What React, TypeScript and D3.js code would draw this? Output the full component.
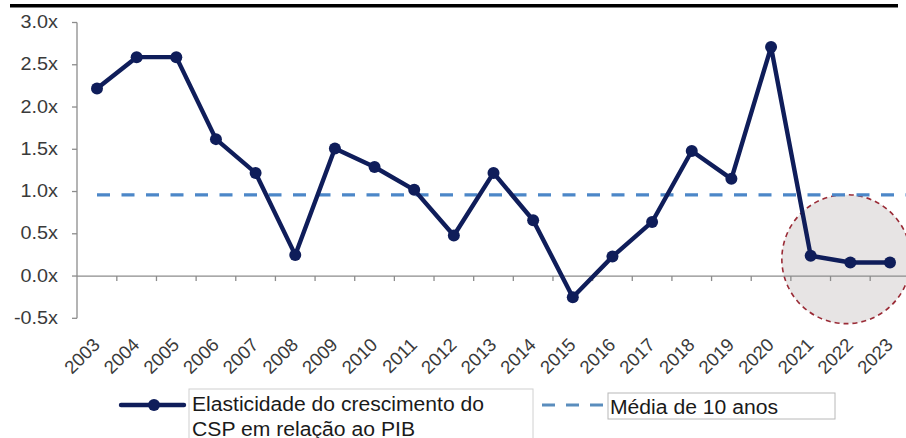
import React from "react";
import * as d3 from "d3";

const years = ["2003","2004","2005","2006","2007","2008","2009","2010","2011","2012","2013","2014","2015","2016","2017","2018","2019","2020","2021","2022","2023"];
const elasticity = [2.22,2.59,2.59,1.62,1.22,0.25,1.51,1.29,1.02,0.48,1.22,0.66,-0.25,0.23,0.64,1.48,1.15,2.71,0.24,0.16,0.16];
const mean10 = 0.96;
const yTicks = [-0.5,0,0.5,1,1.5,2,2.5,3];
const legendSeries = ["Elasticidade do crescimento do", "CSP em relação ao PIB"];
const legendMean = "Média de 10 anos";

const W = 906, H = 438;
const FONT = "'Liberation Sans', Arial, sans-serif";
const NAVY = "#0f1d5a";
const BLUE = "#4c87c8";

export default function App() {
  const x = d3.scalePoint<string>().domain(years).range([97, 890]);
  const step = x.step();
  const y = d3.scaleLinear().domain([-0.5, 3]).range([318.3, 22.5]);
  const line = d3.line<number>().x((_, i) => x(years[i])!).y(d => y(d));
  const axisX = 77;
  const y0 = y(0);

  return (
    <svg width={W} height={H} style={{ position: "absolute", left: 0, top: 0, background: "#fff" }} fontFamily={FONT}>
      <rect x={10} y={4} width={888} height={3.5} fill="#000" />
      {/* highlight circle */}
      <circle cx={x("2022")! - 4} cy={y(0.2)} r={64.5} fill="#e7e4e4" stroke="#9a2b36" strokeWidth={1.6} strokeDasharray="5 4" />
      {/* y axis */}
      <line x1={axisX} x2={axisX} y1={y(3)} y2={y(-0.5)} stroke="#8c8c8c" strokeWidth={1.3} />
      {yTicks.map(t => (
        <g key={t}>
          <line x1={axisX - 5} x2={axisX} y1={y(t)} y2={y(t)} stroke="#8c8c8c" strokeWidth={1.3} />
          <text transform={`translate(58,${y(t) + 5.5}) scale(1.1,1)`} textAnchor="end" fontSize={18} fill="#3a3a3a">{t.toFixed(1) + "x"}</text>
        </g>
      ))}
      {/* x axis */}
      <line x1={axisX} x2={W} y1={y0} y2={y0} stroke="#8c8c8c" strokeWidth={1.3} />
      {years.slice(0, -1).map(yr => (
        <line key={yr} x1={x(yr)! + step / 2} x2={x(yr)! + step / 2} y1={y0} y2={y0 + 5} stroke="#8c8c8c" strokeWidth={1.3} />
      ))}
      {years.map(yr => (
        <text key={yr} transform={`translate(${x(yr)! + 4},${346}) rotate(-45)`} textAnchor="end" fontSize={18.5} fill="#3a3a3a">{yr}</text>
      ))}
      {/* mean line */}
      <line x1={x("2003")!} x2={W} y1={y(mean10)} y2={y(mean10)} stroke={BLUE} strokeWidth={3.2} strokeDasharray="13 11.5" />
      {/* series */}
      <path d={line(elasticity)!} fill="none" stroke={NAVY} strokeWidth={4.4} strokeLinejoin="round" />
      {elasticity.map((v, i) => (
        <circle key={i} cx={x(years[i])!} cy={y(v)} r={6} fill={NAVY} />
      ))}
      {/* legend */}
      <line x1={121} x2={184} y1={405} y2={405} stroke={NAVY} strokeWidth={4.4} strokeLinecap="round" />
      <circle cx={154} cy={405} r={6} fill={NAVY} />
      <rect x={189} y={389} width={344} height={55} fill="none" stroke="#d0d0d0" strokeWidth={1} />
      <text x={192} y={411} fontSize={20} fill="#1a1a1a" textLength={292} lengthAdjust="spacingAndGlyphs">{legendSeries[0]}</text>
      <text x={192} y={435.5} fontSize={20} fill="#1a1a1a" textLength={223} lengthAdjust="spacingAndGlyphs">{legendSeries[1]}</text>
      <line x1={542} x2={603} y1={405} y2={405} stroke="#5a8dbd" strokeWidth={3.2} strokeDasharray="13 11" />
      <rect x={608} y={393} width={227} height={26} fill="none" stroke="#b8b8b8" strokeWidth={1} />
      <text x={610} y={414} fontSize={20} fill="#1a1a1a" textLength={168} lengthAdjust="spacingAndGlyphs">{legendMean}</text>
    </svg>
  );
}
